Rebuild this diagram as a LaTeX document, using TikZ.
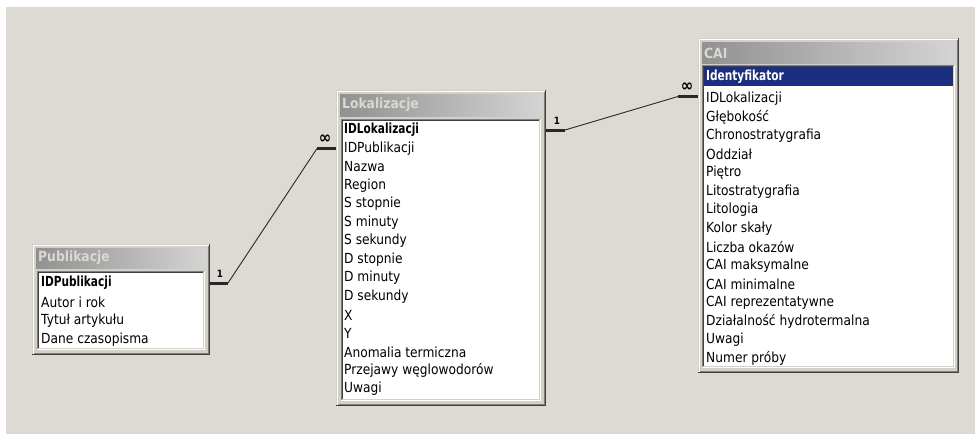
\documentclass[tikz,border=0pt]{standalone}
\usepackage{fontspec}
\setmainfont{DejaVu Sans}[FakeStretch=0.88]
\newfontfamily\keyfont{DejaVu Sans}[FakeStretch=0.76]
\definecolor{canvas}{RGB}{221,217,211}
\definecolor{face}{RGB}{212,208,200}
\definecolor{dkA}{RGB}{64,64,64}
\definecolor{dkB}{RGB}{128,128,128}
\definecolor{titL}{RGB}{145,145,145}
\definecolor{titR}{RGB}{212,212,212}
\definecolor{titT}{RGB}{218,216,210}
\definecolor{selbg}{RGB}{28,46,128}
\definecolor{linec}{RGB}{40,40,40}
\newcommand\winframe[5]{%
  \node[tframe, anchor=north west, minimum width={(#4-#2)*1pt}, minimum height={(#5-#3)*1pt}] (#1) at (#2,#3) {};
  \draw[white] ({#2+1.5},{#5-1.5}) -- ({#2+1.5},{#3+1.5}) -- ({#4-1.5},{#3+1.5});
  \draw[dkA] ({#2},{#5-0.5}) -- ({#4-0.5},{#5-0.5}) -- ({#4-0.5},{#3});
  \draw[dkB] ({#2+1.5},{#5-1.5}) -- ({#4-1.5},{#5-1.5}) -- ({#4-1.5},{#3+1.5});
}
\newcommand\titlebar[4]{%
  \shade[left color=titL, right color=titR] (#1,#2) rectangle (#3,#4);
}
\newcommand\listbox[4]{%
  \fill[white] (#1,#2) rectangle (#3,#4);
  \draw[dkB] ({#1+0.5},{#4}) -- ({#1+0.5},{#2+0.5}) -- ({#3},{#2+0.5});
  \draw[dkA] ({#1+1.5},{#4-1}) -- ({#1+1.5},{#2+1.5}) -- ({#3-1},{#2+1.5});
  \draw[white] ({#1},{#4-0.5}) -- ({#3-0.5},{#4-0.5}) -- ({#3-0.5},{#2});
  \draw[face] ({#1+1},{#4-1.5}) -- ({#3-1.5},{#4-1.5}) -- ({#3-1.5},{#2+1});
}
\tikzset{
  tframe/.style={rectangle, fill=face, inner sep=0pt, outer sep=0pt, draw=none},
  row/.style={anchor=west, inner sep=0pt, font=\fontsize{13.9}{15}\selectfont, text=black},
  keyrow/.style={row, font=\fontsize{13.9}{15}\selectfont\keyfont\bfseries},
  ttl/.style={anchor=west, inner sep=0pt, font=\fontsize{14}{15}\selectfont\bfseries, text=titT},
  thickc/.style={draw=linec, line width=3pt},
  thinc/.style={draw=linec, line width=0.9pt},
  card/.style={inner sep=0pt, font=\fontsize{10}{11}\selectfont\bfseries, text=black},
  many/.style={inner sep=0pt, font=\fontsize{17}{17}\selectfont\bfseries, text=black}
}
\begin{document}
\begin{tikzpicture}[x=1pt,y=-1pt]
\useasboundingbox (0,0) rectangle (975,434);
\fill[white] (0,0) rectangle (975,434);
\fill[canvas] (6,7) rectangle (975,434);

% ---------- Publikacje ----------
\winframe{pubf}{32}{244}{210}{355}
\titlebar{36}{248}{206}{268}
\node[ttl] (pubt) at (38,258) {Publikacje};
\listbox{37}{271}{205}{350}
\node[keyrow] (p1) at (41,283) {IDPublikacji};
\node[row] (p2) at (41,302) {Autor i rok};
\node[row] (p3) at (41,321) {Tytuł artykułu};
\node[row] (p4) at (41,340) {Dane czasopisma};

% ---------- Lokalizacje ----------
\winframe{lokf}{336}{90}{546}{406}
\titlebar{340}{94}{542}{116}
\node[ttl] (lokt) at (342,105) {Lokalizacje};
\listbox{341}{119}{541}{401}
\node[keyrow] (l1) at (344,130) {IDLokalizacji};
\foreach \t [count=\i from 2] in {IDPublikacji,Nazwa,Region,S stopnie,S minuty,S sekundy,D stopnie,D minuty,D sekundy,X,Y,Anomalia termiczna,Przejawy węglowodorów,Uwagi}
  \node[row] (l\i) at (344,{130+(\i-1)*18.5}) {\t};

% ---------- CAI ----------
\winframe{caif}{698}{38}{959}{373}
\titlebar{702}{42}{955}{63}
\node[ttl] (cait) at (704,53) {CAI};
\listbox{702}{65}{955}{368}
\fill[selbg] (704,67) rectangle (953,86);
\node[keyrow, text=white] (c1) at (706,76.5) {Identyfikator};
\foreach \t [count=\i from 2] in {IDLokalizacji,Głębokość,Chronostratygrafia,Oddział,Piętro,Litostratygrafia,Litologia,Kolor skały,Liczba okazów,CAI maksymalne,CAI minimalne,CAI reprezentatywne,Działalność hydrotermalna,Uwagi,Numer próby}
  \node[row] (c\i) at (706,{99+(\i-2)*18.5}) {\t};

% ---------- relationships ----------
% Publikacje -> Lokalizacje
\path (pubf.east |- p1) ++(18,0) coordinate (ka);
\path (lokf.west |- l2) ++(-19,0) coordinate (kb);
\draw[thickc] (pubf.east |- p1) -- (ka);
\draw[thinc] (ka) -- (kb);
\draw[thickc] (kb) -- (lokf.west |- l2);
\node[card] (n1) at (220,274) {1};
\node[many] (m1) at (325,139) {∞};

% Lokalizacje -> CAI
\path (lokf.east |- l1) ++(19,0) coordinate (kc);
\path (caif.west |- c2) ++(-20,-2.5) coordinate (kd);
\draw[thickc] (lokf.east |- l1) -- (kc);
\draw[thinc] (kc) -- (kd);
\draw[thickc] (kd) -- ([yshift=2.5pt]caif.west |- c2);
\node[card] (n2) at (557,121) {1};
\node[many] (m2) at (687,87) {∞};
\end{tikzpicture}
\end{document}
